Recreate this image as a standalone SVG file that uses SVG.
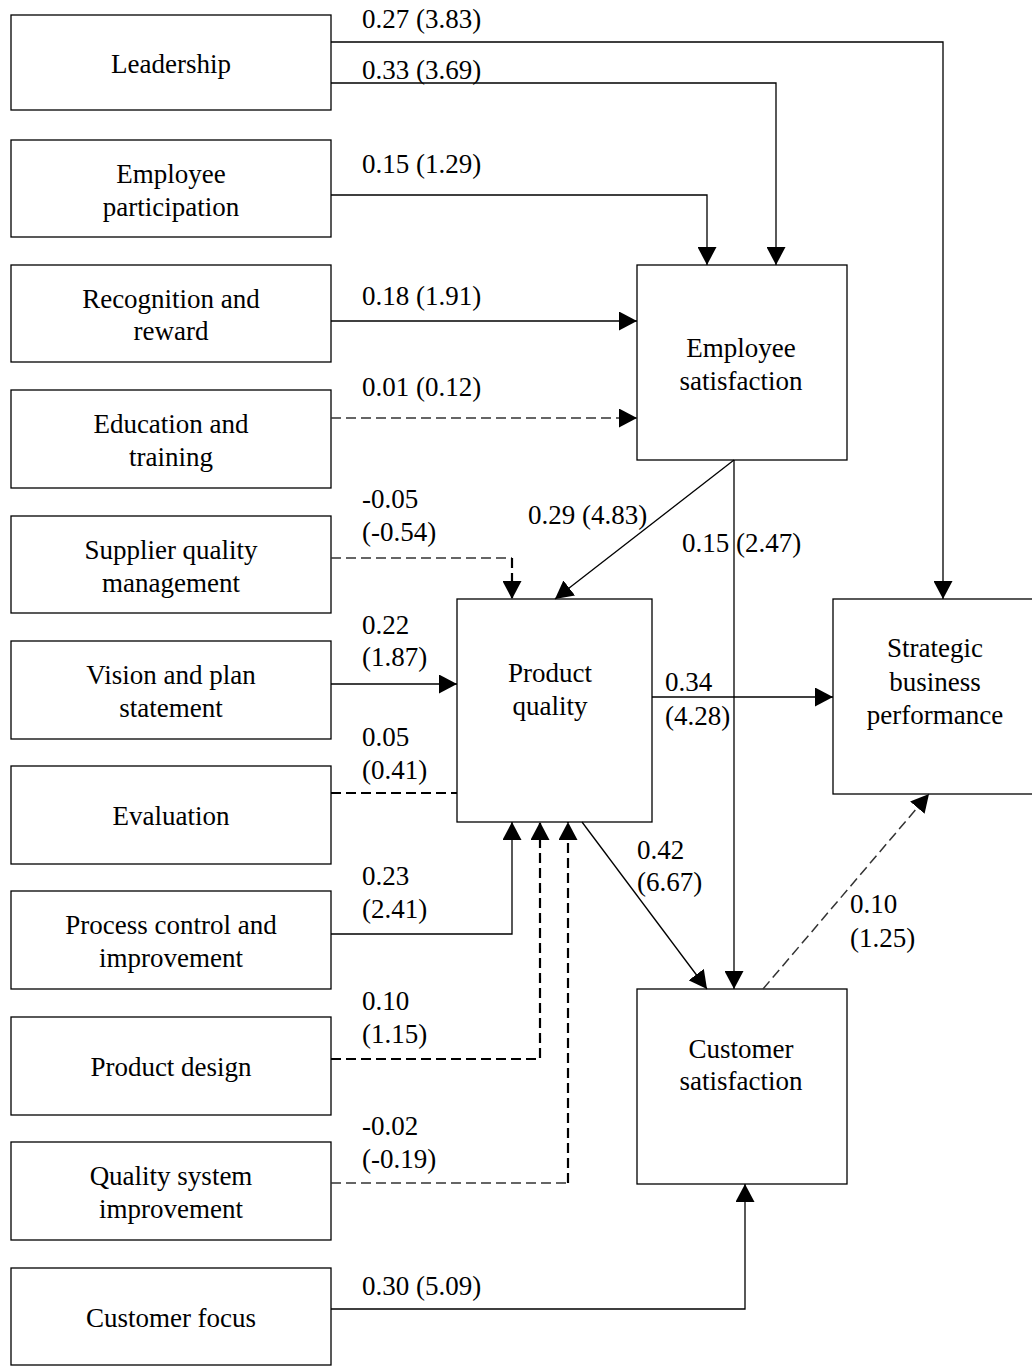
<svg xmlns="http://www.w3.org/2000/svg" width="1032" height="1370" viewBox="0 0 1032 1370">
<defs>
<marker id="ah" markerUnits="userSpaceOnUse" markerWidth="19" markerHeight="19" refX="18" refY="9.5" orient="auto" viewBox="0 0 19 19">
<path d="M0,0 L18,9.5 L0,19 Z" fill="#000"/>
</marker>
<style>
.n rect{fill:#fff;stroke:#000;stroke-width:1.3}
text{font-family:"Liberation Serif","Times New Roman",serif;font-size:27px;fill:#000}
.c{text-anchor:middle}
.ln{fill:none;stroke:#000;stroke-width:1.3}
.d{fill:none;stroke:#333;stroke-width:1.5;stroke-dasharray:10 5}
.dt{fill:none;stroke:#000;stroke-width:2.2;stroke-dasharray:10 5}
.a{marker-end:url(#ah)}
</style>
</defs>
<rect x="0" y="0" width="1032" height="1370" fill="#fff"/>
<g id="n-leadership" class="n"><rect x="11" y="15" width="320" height="95"/><text class="c" x="171" y="73">Leadership</text></g>
<g id="n-participation" class="n"><rect x="11" y="140" width="320" height="97"/><text class="c" x="171" y="183">Employee</text><text class="c" x="171" y="216">participation</text></g>
<g id="n-recognition" class="n"><rect x="11" y="265" width="320" height="97"/><text class="c" x="171" y="308">Recognition and</text><text class="c" x="171" y="340">reward</text></g>
<g id="n-education" class="n"><rect x="11" y="390" width="320" height="98"/><text class="c" x="171" y="433">Education and</text><text class="c" x="171" y="466">training</text></g>
<g id="n-supplier" class="n"><rect x="11" y="516" width="320" height="97"/><text class="c" x="171" y="559">Supplier quality</text><text class="c" x="171" y="592">management</text></g>
<g id="n-vision" class="n"><rect x="11" y="641" width="320" height="98"/><text class="c" x="171" y="684">Vision and plan</text><text class="c" x="171" y="717">statement</text></g>
<g id="n-evaluation" class="n"><rect x="11" y="766" width="320" height="98"/><text class="c" x="171" y="825">Evaluation</text></g>
<g id="n-process" class="n"><rect x="11" y="891" width="320" height="98"/><text class="c" x="171" y="934">Process control and</text><text class="c" x="171" y="967">improvement</text></g>
<g id="n-design" class="n"><rect x="11" y="1017" width="320" height="98"/><text class="c" x="171" y="1076">Product design</text></g>
<g id="n-qsystem" class="n"><rect x="11" y="1142" width="320" height="98"/><text class="c" x="171" y="1185">Quality system</text><text class="c" x="171" y="1218">improvement</text></g>
<g id="n-custfocus" class="n"><rect x="11" y="1268" width="320" height="97"/><text class="c" x="171" y="1327">Customer focus</text></g>
<g id="n-empsat" class="n"><rect x="637" y="265" width="210" height="195"/><text class="c" x="741" y="357">Employee</text><text class="c" x="741" y="390">satisfaction</text></g>
<g id="n-pq" class="n"><rect x="457" y="599" width="195" height="223"/><text class="c" x="550" y="682">Product</text><text class="c" x="550" y="715">quality</text></g>
<g id="n-sbp" class="n"><rect x="833" y="599" width="210" height="195"/><text class="c" x="935" y="657">Strategic</text><text class="c" x="935" y="691">business</text><text class="c" x="935" y="724">performance</text></g>
<g id="n-custsat" class="n"><rect x="637" y="989" width="210" height="195"/><text class="c" x="741" y="1058">Customer</text><text class="c" x="741" y="1090">satisfaction</text></g>
<g id="connectors">
<path class="ln a" d="M331,42 H943 V599"/>
<path class="ln a" d="M331,83 H776 V265"/>
<path class="ln a" d="M331,195 H707 V265"/>
<path class="ln a" d="M331,321 H637"/>
<path class="d a" d="M331,418 H637"/>
<path class="d" d="M331,558 H512"/>
<path class="dt a" d="M512,558 V599"/>
<path class="ln a" d="M734,460 L555,599"/>
<path class="ln a" d="M734,460 V989"/>
<path class="ln a" d="M331,684 H457"/>
<path class="dt" d="M331,793 H457"/>
<path class="ln a" d="M331,934 H512 V822"/>
<path class="dt a" d="M331,1059 H540 V822"/>
<path class="d" d="M331,1183 H568"/>
<path class="dt a" d="M568,1183 V822"/>
<path class="ln a" d="M652,697 H833"/>
<path class="ln a" d="M582,822 L707,989"/>
<path class="d a" d="M763,989 L929,794"/>
<path class="ln a" d="M331,1309 H745 V1184"/>
</g>
<g id="labels">
<text x="362" y="28">0.27 (3.83)</text>
<text x="362" y="79">0.33 (3.69)</text>
<text x="362" y="173">0.15 (1.29)</text>
<text x="362" y="305">0.18 (1.91)</text>
<text x="362" y="396">0.01 (0.12)</text>
<text x="362" y="508">-0.05</text>
<text x="362" y="541">(-0.54)</text>
<text x="528" y="524">0.29 (4.83)</text>
<text x="682" y="552">0.15 (2.47)</text>
<text x="362" y="634">0.22</text>
<text x="362" y="666">(1.87)</text>
<text x="665" y="691">0.34</text>
<text x="665" y="725">(4.28)</text>
<text x="362" y="746">0.05</text>
<text x="362" y="779">(0.41)</text>
<text x="637" y="859">0.42</text>
<text x="637" y="891">(6.67)</text>
<text x="362" y="885">0.23</text>
<text x="362" y="918">(2.41)</text>
<text x="850" y="913">0.10</text>
<text x="850" y="947">(1.25)</text>
<text x="362" y="1010">0.10</text>
<text x="362" y="1043">(1.15)</text>
<text x="362" y="1135">-0.02</text>
<text x="362" y="1168">(-0.19)</text>
<text x="362" y="1295">0.30 (5.09)</text>
</g>
</svg>
